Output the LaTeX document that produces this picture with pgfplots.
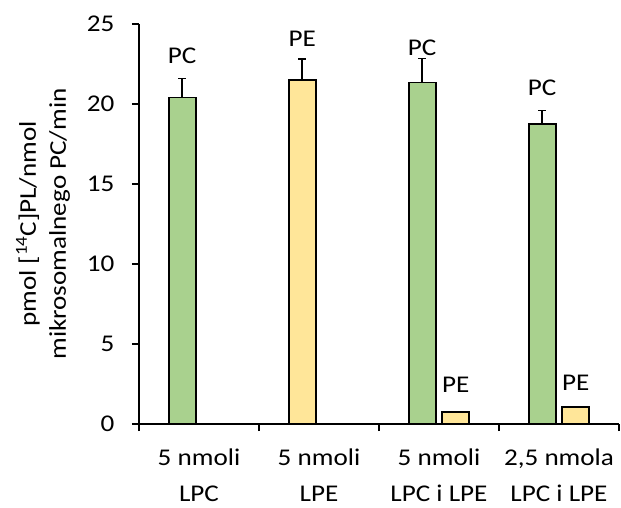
\documentclass[border=0pt]{standalone}
\usepackage{pgfplots}
\pgfplotsset{compat=1.18}
\usepackage{pgfplotstable}
\usepackage{fontspec}
\setmainfont{Carlito}[FakeStretch=1.13]

\definecolor{pcgreen}{HTML}{A9D18E}
\definecolor{peyellow}{HTML}{FFE699}

% PC incorporation (bar centre, mean, + error)
\pgfplotstableread{
x    y     err
0.36 20.4  1.2
2.36 21.35 1.5
3.36 18.75 0.85
}\pcdata

% PE incorporation
\pgfplotstableread{
x    y     err
1.36 21.5  1.3
2.64 0.75  0
3.64 1.05  0
}\pedata

\begin{document}
\begin{tikzpicture}
\path[use as bounding box] (-139pt,-84pt) rectangle (482pt,424pt);
\begin{axis}[
  scale only axis, width=480pt, height=400pt,
  xmin=0, xmax=4, ymin=0, ymax=25,
  axis x line*=bottom, axis y line*=left,
  axis line style={-, line width=1.7pt, black},
  tick style={black, line width=1.7pt},
  tick align=outside, major tick length=7pt,
  /pgf/number format/assume math mode=true,
  xtick={0,1,2,3,4}, xticklabels={},
  extra x ticks={0.5,1.5,2.5,3.5},
  extra x tick labels={{5 nmoli\\LPC},{5 nmoli\\LPE},{5 nmoli\\LPC i LPE},{2,5 nmola\\LPC i LPE}},
  extra x tick style={major tick length=0pt,
    xticklabel style={align=center, font=\fontsize{24}{36}\selectfont,
      inner ysep=0pt, yshift=-25pt}},
  ytick={0,5,...,25},
  yticklabel style={font=\fontsize{24}{28}\selectfont, xshift=-14pt},
  ylabel={pmol [\textsuperscript{14}C]PL/nmol\\mikrosomalnego PC/min},
  ylabel style={align=center, font=\fontsize{24}{30}\selectfont,
    at={(axis description cs:-0.2,0.5)}, anchor=center},
  bar width=0.225,
  clip=false,
]
\addplot[ybar, bar shift=0pt, fill=pcgreen, draw=black, line width=1.7pt,
  error bars/.cd, y dir=plus, y explicit,
  error bar style={line width=1.7pt, black},
  error mark options={rotate=90, mark size=4pt, line width=1.7pt, black}]
  table[x=x, y=y, y error=err] {\pcdata};
\addplot[ybar, bar shift=0pt, fill=peyellow, draw=black, line width=1.7pt,
  error bars/.cd, y dir=plus, y explicit,
  error bar style={line width=1.7pt, black},
  error mark options={rotate=90, mark size=4pt, line width=1.7pt, black}]
  table[x=x, y=y, y error=err] {\pedata};

\begin{scope}[every node/.style={anchor=base, font=\fontsize{24}{28}\selectfont, inner sep=0pt}]
\node at (axis cs:0.36,22.55) {PC};
\node at (axis cs:1.36,23.6) {PE};
\node at (axis cs:2.36,23.0) {PC};
\node at (axis cs:3.36,20.56) {PC};
\node at (axis cs:2.64,1.94) {PE};
\node at (axis cs:3.64,2.1) {PE};
\end{scope}
\end{axis}
\end{tikzpicture}
\end{document}
